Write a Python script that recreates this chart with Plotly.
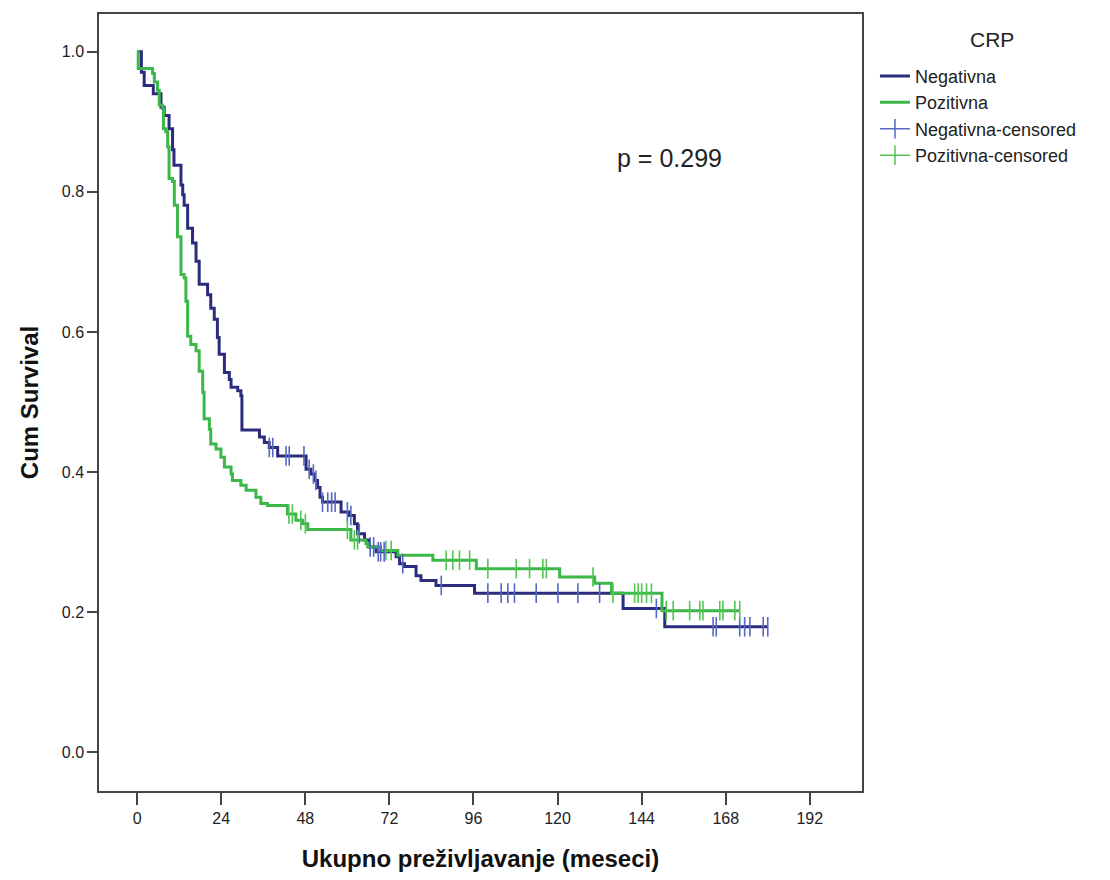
import numpy as np
import plotly.graph_objects as go

# ---- data ----
neg_times = [0, 1.2, 2.0, 4.6, 6.8, 7.7, 9.1, 10.1, 10.5, 12.5, 13.0, 13.4, 14.4, 15.8, 16.8, 17.7,
             20.1, 21.0, 22.0, 22.9, 23.4, 24.9, 26.3, 26.8, 28.7, 29.6, 29.9, 34.9, 36.3, 37.7,
             40.1, 48.2, 49.6, 50.6, 51.5, 52.2, 52.9, 58.2, 60.6, 62.0, 62.9, 64.9, 66.3, 68.2,
             73.9, 74.9, 76.3, 79.6, 81.0, 85.3, 96.3, 138.7, 150.6, 180.0]
neg_surv = [1.0, 0.971, 0.952, 0.940, 0.921, 0.909, 0.890, 0.860, 0.838, 0.810, 0.796, 0.781, 0.748,
            0.727, 0.701, 0.668, 0.653, 0.634, 0.618, 0.592, 0.568, 0.542, 0.532, 0.521, 0.516, 0.509,
            0.460, 0.450, 0.442, 0.435, 0.423, 0.404, 0.397, 0.388, 0.378, 0.364, 0.357, 0.343, 0.338,
            0.326, 0.312, 0.303, 0.293, 0.286, 0.279, 0.269, 0.265, 0.252, 0.245, 0.238, 0.227, 0.205,
            0.179, 0.179]
neg_censored = [37.7, 38.7, 42.5, 43.4, 47.6, 49.1, 50.3, 51.0, 52.9, 54.4, 55.5, 56.5, 60.0, 61.0,
                63.4, 66.5, 67.5, 68.8, 69.5, 70.5, 75.8, 86.8, 100.1, 103.9, 105.8, 107.7, 113.9,
                120.1, 125.8, 132.0, 148.2, 164.4, 165.3, 172.0, 173.4, 174.9, 178.7, 180.0]

pos_times = [0, 0.3, 4.4, 4.9, 5.8, 6.3, 7.2, 7.5, 8.2, 8.7, 9.1, 10.1, 10.6, 11.5, 12.5, 13.4, 13.9,
             14.4, 15.3, 16.8, 17.7, 18.7, 19.1, 20.6, 21.0, 22.5, 23.9, 24.9, 26.8, 27.2, 29.6, 31.1,
             33.9, 35.3, 37.2, 42.9, 45.3, 47.2, 48.7, 61.0, 65.3, 65.8, 69.5, 74.4, 84.4, 96.8,
             120.6, 130.6, 135.4, 149.8, 172.0]
pos_surv = [1.0, 0.976, 0.969, 0.957, 0.945, 0.924, 0.919, 0.890, 0.886, 0.864, 0.819, 0.815, 0.781,
            0.736, 0.682, 0.677, 0.644, 0.594, 0.582, 0.573, 0.544, 0.514, 0.476, 0.461, 0.440, 0.433,
            0.421, 0.407, 0.397, 0.388, 0.381, 0.374, 0.364, 0.355, 0.352, 0.340, 0.331, 0.326, 0.318,
            0.303, 0.298, 0.293, 0.288, 0.281, 0.274, 0.262, 0.250, 0.241, 0.227, 0.202, 0.202]
pos_censored = [43.3, 44.3, 46.7, 48.0, 60.0, 62.0, 62.9, 71.0, 72.5, 88.2, 90.1, 92.0, 94.9, 100.1,
                108.2, 112.0, 115.8, 116.8, 130.1, 135.8, 142.0, 143.0, 144.0, 145.4, 146.8, 151.0,
                153.0, 157.7, 160.6, 161.5, 166.3, 167.2, 170.6, 172.0]

x_ticks = [0, 24, 48, 72, 96, 120, 144, 168, 192]
y_ticks = [0.0, 0.2, 0.4, 0.6, 0.8, 1.0]
p_text = "p = 0.299"
legend_title = "CRP"

NEG_COL = "#2b2c7e"
POS_COL = "#3cb84a"
NEG_CEN = "#5468c4"
POS_CEN = "#52c552"
FONT = "Liberation Sans, Arial, sans-serif"


def surv_at(times, surv, t):
    idx = np.searchsorted(np.asarray(times), np.asarray(t), side="right") - 1
    return np.asarray(surv)[idx]


fig = go.Figure()

fig.add_trace(go.Scatter(x=neg_times, y=neg_surv, mode="lines", line=dict(shape="hv", color=NEG_COL, width=3),
                         name="Negativna"))
fig.add_trace(go.Scatter(x=pos_times, y=pos_surv, mode="lines", line=dict(shape="hv", color=POS_COL, width=3),
                         name="Pozitivna"))
fig.add_trace(go.Scatter(x=neg_censored, y=surv_at(neg_times, neg_surv, neg_censored), mode="markers",
                         marker=dict(symbol="line-ns", size=14, line=dict(color=NEG_CEN, width=1.6)),
                         showlegend=False, name="Negativna-censored"))
fig.add_trace(go.Scatter(x=pos_censored, y=surv_at(pos_times, pos_surv, pos_censored), mode="markers",
                         marker=dict(symbol="line-ns", size=14, line=dict(color=POS_CEN, width=1.6)),
                         showlegend=False, name="Pozitivna-censored"))
# legend entries for censored marks
fig.add_trace(go.Scatter(x=[None], y=[None], mode="lines+markers", line=dict(color=NEG_CEN, width=1.5),
                         marker=dict(symbol="line-ns", size=14, line=dict(color=NEG_CEN, width=1.5)),
                         name="Negativna-censored"))
fig.add_trace(go.Scatter(x=[None], y=[None], mode="lines+markers", line=dict(color=POS_CEN, width=1.5),
                         marker=dict(symbol="line-ns", size=14, line=dict(color=POS_CEN, width=1.5)),
                         name="Pozitivna-censored"))

fig.add_annotation(x=152, y=0.848, text=p_text, showarrow=False,
                   font=dict(family=FONT, size=25, color="#222"))
fig.add_annotation(xref="paper", yref="paper", x=1.17, y=(795 - 40) / 781, text=legend_title,
                   showarrow=False, xanchor="center", yanchor="middle",
                   font=dict(family=FONT, size=21, color="#222"))

axis_common = dict(showline=True, mirror=True, linecolor="#444", linewidth=1.5, ticks="outside",
                   tickcolor="#444", tickwidth=1.5, showgrid=False, zeroline=False,
                   tickfont=dict(family=FONT, size=16, color="#222"))

fig.update_layout(
    width=1110, height=880,
    margin=dict(l=99, r=248, t=14, b=85),
    paper_bgcolor="white", plot_bgcolor="white",
    xaxis=dict(range=[-10.9, 206.9], tickvals=x_ticks, ticklen=12, **axis_common,
               title=dict(text="<b>Ukupno preživljavanje (meseci)</b>", standoff=24,
                          font=dict(family=FONT, size=24, color="#111"))),
    yaxis=dict(range=[-0.0555, 1.054], tickvals=y_ticks, tickformat=".1f", ticklen=10, **axis_common,
               title=dict(text="<b>Cum Survival</b>", standoff=16,
                          font=dict(family=FONT, size=24, color="#111"))),
    legend=dict(x=1.017, y=(795 - 58) / 781, xanchor="left", yanchor="top", bgcolor="rgba(0,0,0,0)",
                font=dict(family=FONT, size=18, color="#222"),
                itemwidth=30, tracegroupgap=0),
)

fig.write_html("out.html")
